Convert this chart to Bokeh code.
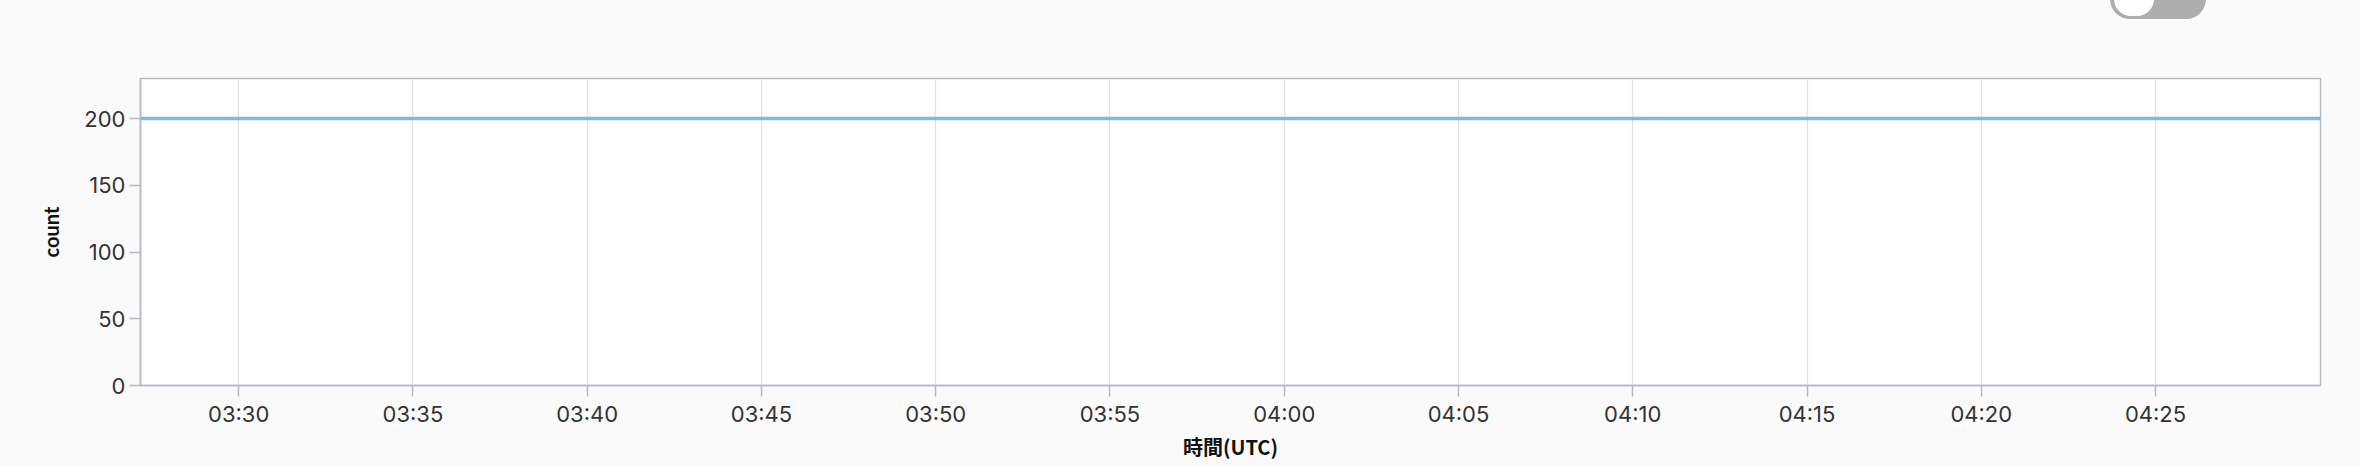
from datetime import datetime
from bokeh.plotting import figure
from bokeh.models import FixedTicker, DatetimeTickFormatter, Range1d, Div, ColumnDataSource
from bokeh.layouts import column
from bokeh.embed import file_html
from bokeh.resources import INLINE

# ---- data ----
times = [
    "03:27", "03:28", "03:29", "03:30", "03:31", "03:32", "03:33", "03:34", "03:35",
    "03:36", "03:37", "03:38", "03:39", "03:40", "03:41", "03:42", "03:43", "03:44",
    "03:45", "03:46", "03:47", "03:48", "03:49", "03:50", "03:51", "03:52", "03:53",
    "03:54", "03:55", "03:56", "03:57", "03:58", "03:59", "04:00", "04:01", "04:02",
    "04:03", "04:04", "04:05", "04:06", "04:07", "04:08", "04:09", "04:10", "04:11",
    "04:12", "04:13", "04:14", "04:15", "04:16", "04:17", "04:18", "04:19", "04:20",
    "04:21", "04:22", "04:23", "04:24", "04:25", "04:26", "04:27", "04:28", "04:29",
    "04:30",
]
counts = [
    200, 200, 200, 200, 200, 200, 200, 200, 200,
    200, 200, 200, 200, 200, 200, 200, 200, 200,
    200, 200, 200, 200, 200, 200, 200, 200, 200,
    200, 200, 200, 200, 200, 200, 200, 200, 200,
    200, 200, 200, 200, 200, 200, 200, 200, 200,
    200, 200, 200, 200, 200, 200, 200, 200, 200,
    200, 200, 200, 200, 200, 200, 200, 200, 200,
    200,
]
x_tick_labels = ["03:30", "03:35", "03:40", "03:45", "03:50", "03:55",
                 "04:00", "04:05", "04:10", "04:15", "04:20", "04:25"]
y_ticks = [0, 50, 100, 150, 200]
x_start = "03:27:11"
x_end = "04:29:44"
y_max = 230

DAY = "2024-01-01 "


def to_dt(s):
    fmt = "%Y-%m-%d %H:%M:%S" if s.count(":") == 2 else "%Y-%m-%d %H:%M"
    return datetime.strptime(DAY + s, fmt)


def to_ms(s):
    return (to_dt(s) - datetime(1970, 1, 1)).total_seconds() * 1000.0


src = ColumnDataSource(dict(t=[to_dt(s) for s in times], c=counts))

GRAY = "#b5bac1"

p = figure(
    width=2350, height=444, x_axis_type="datetime",
    output_backend="svg", toolbar_location=None,
    x_range=Range1d(to_dt(x_start), to_dt(x_end)),
    y_range=Range1d(0, y_max),
    min_border_left=140, min_border_right=30, min_border_top=56, min_border_bottom=81,
    background_fill_color="#ffffff", border_fill_color="#fafafa",
)
p.line("t", "c", source=src, line_color="#7dbbd9", line_width=3.5)

p.outline_line_color = GRAY
p.outline_line_width = 1.5
p.ygrid.visible = False
p.xgrid.grid_line_color = "#dfe0e3"
p.xgrid.grid_line_width = 1.2

p.xaxis.ticker = FixedTicker(ticks=[to_ms(s) for s in x_tick_labels])
p.xaxis.formatter = DatetimeTickFormatter(minutes="%H:%M", hours="%H:%M", minsec="%H:%M")
p.yaxis.ticker = FixedTicker(ticks=y_ticks)

for ax in (p.xaxis, p.yaxis):
    ax.axis_line_color = GRAY
    ax.axis_line_width = 1.5
    ax.major_tick_line_color = GRAY
    ax.major_tick_line_width = 1.5
    ax.major_tick_out = 11
    ax.major_tick_in = 0
    ax.minor_tick_line_color = None
    ax.major_label_text_font = "Inter"
    ax.major_label_text_font_size = "22px"
    ax.major_label_text_color = "#333333"
    ax.axis_label_text_font_style = "bold"
    ax.axis_label_text_font_size = "20px"
    ax.axis_label_text_color = "#111111"

p.xaxis.axis_label = "時間(UTC)"
p.xaxis.axis_label_text_font = "Noto Sans CJK JP"
p.xaxis.major_label_standoff = 4
p.xaxis.axis_label_standoff = 2
p.yaxis.axis_label = "count"
p.yaxis.axis_label_text_font = "Lato"
p.yaxis.major_label_standoff = 4
p.yaxis.axis_label_standoff = 18

toggle = Div(
    width=2350, height=12,
    text=(
        '<div style="position:relative;width:2350px;height:12px;overflow:visible;">'
        '<div style="position:absolute;left:2105px;top:-26px;width:96px;height:40px;'
        'border-radius:20px;background:#aeaeae;">'
        '<div style="position:absolute;left:4px;top:3px;width:40px;height:34px;'
        'border-radius:17px;background:#ffffff;"></div></div></div>'
    ),
    styles={"overflow": "visible"},
)

layout = column(toggle, p, spacing=0, styles={"background": "#fafafa"})

open("out.html", "w").write(file_html(layout, INLINE))
